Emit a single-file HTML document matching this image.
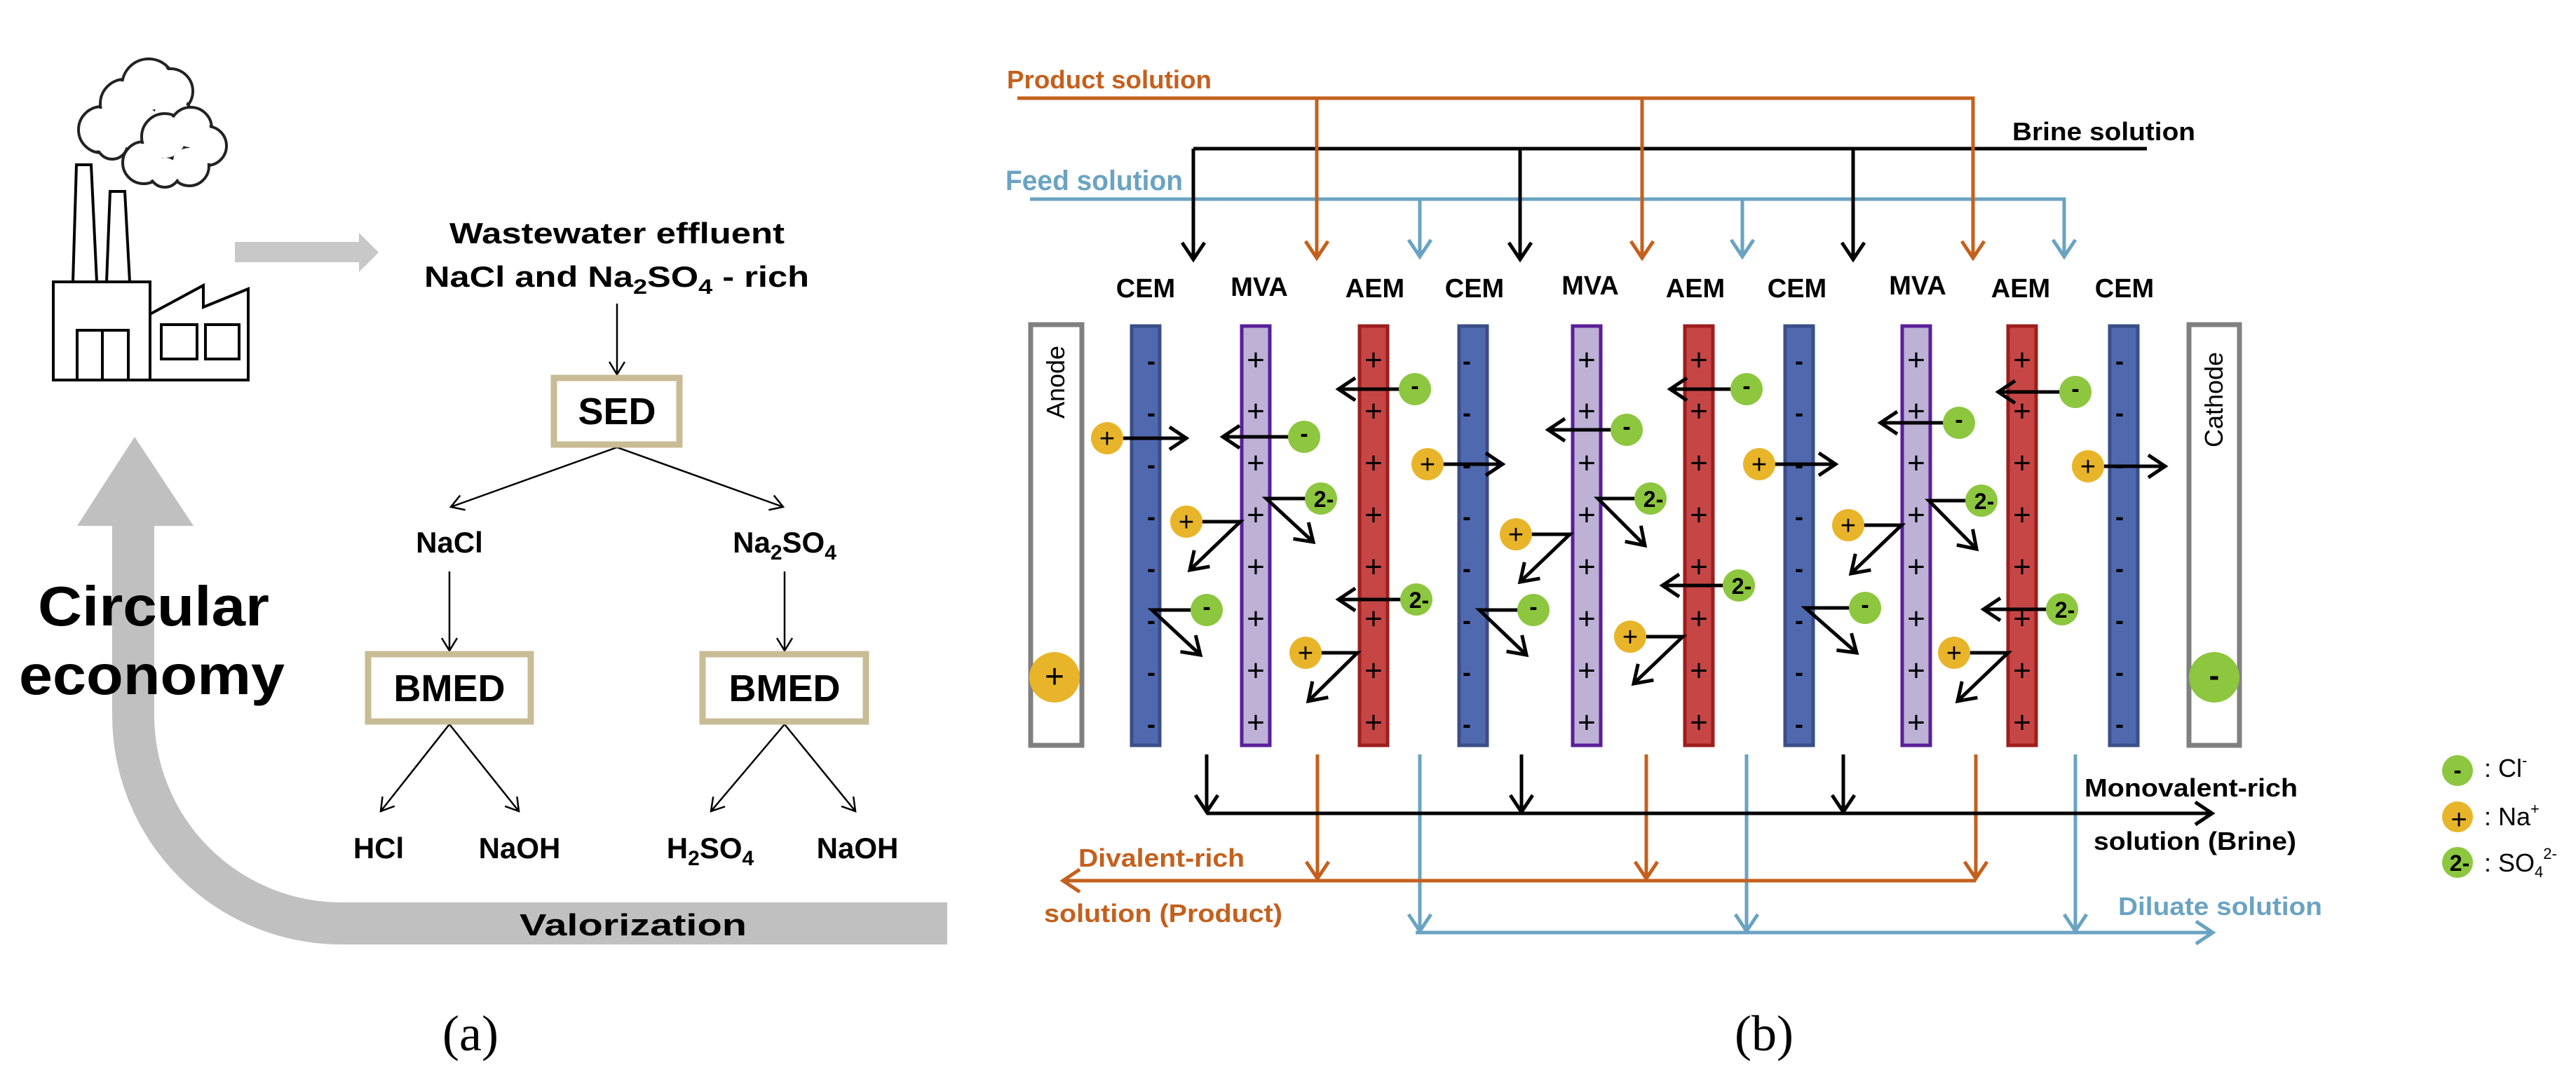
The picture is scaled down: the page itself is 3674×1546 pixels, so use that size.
<!DOCTYPE html>
<html><head><meta charset="utf-8"><style>
html,body{margin:0;padding:0;background:#fff;}
svg{display:block;}
text{font-family:"Liberation Sans",Arial,sans-serif;}
.b{font-weight:bold;}
</style></head><body>
<svg width="3674" height="1546" viewBox="0 0 3674 1546" xmlns="http://www.w3.org/2000/svg">
<defs>
<marker id="mk" markerUnits="userSpaceOnUse" markerWidth="40" markerHeight="40" viewBox="0 0 40 40" refX="34" refY="20" orient="auto"><path d="M10,4 L34,20 L10,36" fill="none" stroke="#000" stroke-width="5"/></marker>
<marker id="mo" markerUnits="userSpaceOnUse" markerWidth="40" markerHeight="40" viewBox="0 0 40 40" refX="34" refY="20" orient="auto"><path d="M10,4 L34,20 L10,36" fill="none" stroke="#c4601d" stroke-width="5"/></marker>
<marker id="mb" markerUnits="userSpaceOnUse" markerWidth="40" markerHeight="40" viewBox="0 0 40 40" refX="34" refY="20" orient="auto"><path d="M10,4 L34,20 L10,36" fill="none" stroke="#6aa3c2" stroke-width="5"/></marker>
<marker id="ms" markerUnits="userSpaceOnUse" markerWidth="30" markerHeight="30" viewBox="0 0 30 30" refX="26" refY="15" orient="auto"><path d="M8,4 L26,15 L8,26" fill="none" stroke="#000" stroke-width="2.5"/></marker>
</defs>

<!-- ===== Panel (a) ===== -->
<path d="M190,745 V1020 A297,297 0 0 0 487,1317 H1351" fill="none" stroke="#c0c0c0" stroke-width="60"/>
<polygon points="192,623 276,750 110,750" fill="#c0c0c0"/>
<rect x="335" y="345" width="180" height="29" fill="#c8c8c8"/>
<polygon points="512,332 540,360 512,388" fill="#c8c8c8"/>

<!-- clouds -->
<g stroke="#222" stroke-width="4" fill="#fff">
<circle cx="145" cy="185" r="33"/><circle cx="178" cy="148" r="35"/><circle cx="212" cy="122" r="38"/><circle cx="243" cy="130" r="32"/><circle cx="245" cy="165" r="28"/><circle cx="200" cy="185" r="35"/><circle cx="160" cy="205" r="22"/>
</g>
<g fill="#fff">
<circle cx="145" cy="185" r="30"/><circle cx="178" cy="148" r="32"/><circle cx="212" cy="122" r="35"/><circle cx="243" cy="130" r="29"/><circle cx="245" cy="165" r="25"/><circle cx="200" cy="185" r="32"/><circle cx="160" cy="205" r="19"/>
</g>
<g stroke="#222" stroke-width="4" fill="#fff">
<circle cx="205" cy="232" r="30"/><circle cx="235" cy="195" r="33"/><circle cx="272" cy="183" r="30"/><circle cx="295" cy="208" r="28"/><circle cx="270" cy="237" r="28"/><circle cx="235" cy="245" r="22"/>
</g>
<g fill="#fff">
<circle cx="205" cy="232" r="27"/><circle cx="235" cy="195" r="30"/><circle cx="272" cy="183" r="27"/><circle cx="295" cy="208" r="25"/><circle cx="270" cy="237" r="25"/><circle cx="235" cy="245" r="19"/>
</g>
<!-- factory -->
<g fill="none" stroke="#000" stroke-width="4">
<polygon points="109,235 130,235 138,402 104,402"/>
<polygon points="157,273 178,273 185,402 152,402"/>
<rect x="76" y="402" width="138" height="140"/>
<polyline points="214,448 290,407 290,438 354,412 354,542 214,542"/>
<rect x="230" y="463" width="51" height="49"/>
<rect x="293" y="463" width="48" height="49"/>
<rect x="110" y="471" width="73" height="71"/>
<line x1="146" y1="471" x2="146" y2="542"/>
</g>

<text x="880" y="347" class="b" font-size="42" text-anchor="middle" textLength="478" lengthAdjust="spacingAndGlyphs">Wastewater effluent</text>
<text x="605" y="409" class="b" font-size="42" textLength="549" lengthAdjust="spacingAndGlyphs">NaCl and Na<tspan font-size="30" dy="10">2</tspan><tspan dy="-10">SO</tspan><tspan font-size="30" dy="10">4</tspan><tspan dy="-10"> - rich</tspan></text>

<g stroke="#000" stroke-width="2.5" fill="none" marker-end="url(#ms)">
<line x1="880" y1="433" x2="880" y2="534"/>
<line x1="880" y1="638" x2="643" y2="723"/>
<line x1="880" y1="638" x2="1117" y2="723"/>
<line x1="641" y1="815" x2="641" y2="928"/>
<line x1="1119" y1="815" x2="1119" y2="928"/>
<line x1="641" y1="1033" x2="543" y2="1157"/>
<line x1="641" y1="1033" x2="740" y2="1157"/>
<line x1="1119" y1="1033" x2="1014" y2="1157"/>
<line x1="1119" y1="1033" x2="1220" y2="1157"/>
</g>
<g fill="#fff" stroke="#c8bc96" stroke-width="9">
<rect x="790" y="539" width="179" height="95"/>
<rect x="525" y="933" width="232" height="96"/>
<rect x="1002" y="933" width="233" height="96"/>
</g>
<text x="880" y="605" class="b" font-size="54" text-anchor="middle">SED</text>
<text x="641" y="1000" class="b" font-size="54" text-anchor="middle">BMED</text>
<text x="1119" y="1000" class="b" font-size="54" text-anchor="middle">BMED</text>
<text x="641" y="788" class="b" font-size="42" text-anchor="middle">NaCl</text>
<text x="1119" y="788" class="b" font-size="42" text-anchor="middle">Na<tspan font-size="30" dy="10">2</tspan><tspan dy="-10">SO</tspan><tspan font-size="30" dy="10">4</tspan></text>
<text x="540" y="1224" class="b" font-size="42" text-anchor="middle">HCl</text>
<text x="741" y="1224" class="b" font-size="42" text-anchor="middle">NaOH</text>
<text x="1013" y="1224" class="b" font-size="42" text-anchor="middle">H<tspan font-size="30" dy="10">2</tspan><tspan dy="-10">SO</tspan><tspan font-size="30" dy="10">4</tspan></text>
<text x="1223" y="1224" class="b" font-size="42" text-anchor="middle">NaOH</text>
<text x="54" y="892" class="b" font-size="80" textLength="330" lengthAdjust="spacingAndGlyphs">Circular</text>
<text x="27" y="990" class="b" font-size="80" textLength="379" lengthAdjust="spacingAndGlyphs">economy</text>
<text x="741" y="1334" class="b" font-size="44" textLength="324" lengthAdjust="spacingAndGlyphs">Valorization</text>
<text x="671" y="1498" font-size="72" text-anchor="middle" style="font-family:'Liberation Serif',serif">(a)</text>

<!-- ===== Panel (b) ===== -->
<text x="1436" y="126" class="b" font-size="36" fill="#c4601d" textLength="292" lengthAdjust="spacingAndGlyphs">Product solution</text>
<text x="1434" y="271" class="b" font-size="40" fill="#6aa3c2" textLength="253" lengthAdjust="spacingAndGlyphs">Feed solution</text>
<text x="2870" y="200" class="b" font-size="36" textLength="261" lengthAdjust="spacingAndGlyphs">Brine solution</text>

<g fill="none" stroke-width="5">
<path d="M1469,284 H2944 V366" stroke="#6aa3c2" marker-end="url(#mb)"/>
<path d="M2025,284 V366" stroke="#6aa3c2" marker-end="url(#mb)"/>
<path d="M2485,284 V366" stroke="#6aa3c2" marker-end="url(#mb)"/>
<path d="M1702,212 H3062" stroke="#000"/>
<path d="M1702,212 V370" stroke="#000" marker-end="url(#mk)"/>
<path d="M2168,212 V370" stroke="#000" marker-end="url(#mk)"/>
<path d="M2643,212 V370" stroke="#000" marker-end="url(#mk)"/>
<path d="M1451,140 H2814 V368" stroke="#c4601d" marker-end="url(#mo)"/>
<path d="M1878,140 V368" stroke="#c4601d" marker-end="url(#mo)"/>
<path d="M2342,140 V368" stroke="#c4601d" marker-end="url(#mo)"/>
</g>

<g class="b" font-size="38" text-anchor="middle" font-weight="bold">
<text x="1634" y="424">CEM</text><text x="1796" y="422">MVA</text><text x="1961" y="424">AEM</text>
<text x="2103" y="424">CEM</text><text x="2268" y="420">MVA</text><text x="2418" y="424">AEM</text>
<text x="2563" y="424">CEM</text><text x="2735" y="420">MVA</text><text x="2882" y="424">AEM</text>
<text x="3030" y="424">CEM</text>
</g>

<rect x="1470" y="463" width="73" height="600" fill="#fff" stroke="#808080" stroke-width="7"/>
<rect x="3122" y="463" width="72" height="600" fill="#fff" stroke="#808080" stroke-width="7"/>
<text transform="translate(1518,545) rotate(-90)" font-size="36" text-anchor="middle">Anode</text>
<text transform="translate(3170,570) rotate(-90)" font-size="36" text-anchor="middle">Cathode</text>
<circle cx="1504" cy="966" r="36" fill="#e8b52a"/>
<text x="1504" y="981" font-size="48" text-anchor="middle">+</text>
<circle cx="3158" cy="966" r="36" fill="#8dc63f"/>
<text x="3158" y="978" class="b" font-size="44" text-anchor="middle">-</text>

<g stroke-width="5">
<rect x="1614" y="465" width="40" height="598" fill="#5069ae" stroke="#3a4e88"/>
<rect x="2081" y="465" width="40" height="598" fill="#5069ae" stroke="#3a4e88"/>
<rect x="2546" y="465" width="40" height="598" fill="#5069ae" stroke="#3a4e88"/>
<rect x="3009" y="465" width="40" height="598" fill="#5069ae" stroke="#3a4e88"/>
<rect x="1771" y="465" width="40" height="598" fill="#bdb1d6" stroke="#5a1f9a"/>
<rect x="2243" y="465" width="40" height="598" fill="#bdb1d6" stroke="#5a1f9a"/>
<rect x="2713" y="465" width="40" height="598" fill="#bdb1d6" stroke="#5a1f9a"/>
<rect x="1939" y="465" width="40" height="598" fill="#c64646" stroke="#9e1e1e"/>
<rect x="2403" y="465" width="40" height="598" fill="#c64646" stroke="#9e1e1e"/>
<rect x="2864" y="465" width="40" height="598" fill="#c64646" stroke="#9e1e1e"/>
</g>
<g class="b" font-size="36" text-anchor="middle">
<text x="1642" y="527">-</text><text x="1642" y="601">-</text><text x="1642" y="675">-</text><text x="1642" y="749">-</text><text x="1642" y="823">-</text><text x="1642" y="897">-</text><text x="1642" y="971">-</text><text x="1642" y="1045">-</text>
<text x="2092" y="527">-</text><text x="2092" y="601">-</text><text x="2092" y="675">-</text><text x="2092" y="749">-</text><text x="2092" y="823">-</text><text x="2092" y="897">-</text><text x="2092" y="971">-</text><text x="2092" y="1045">-</text>
<text x="2566" y="527">-</text><text x="2566" y="601">-</text><text x="2566" y="675">-</text><text x="2566" y="749">-</text><text x="2566" y="823">-</text><text x="2566" y="897">-</text><text x="2566" y="971">-</text><text x="2566" y="1045">-</text>
<text x="3023" y="527">-</text><text x="3023" y="601">-</text><text x="3023" y="675">-</text><text x="3023" y="749">-</text><text x="3023" y="823">-</text><text x="3023" y="897">-</text><text x="3023" y="971">-</text><text x="3023" y="1045">-</text>
</g>
<g font-size="44" text-anchor="middle">
<text x="1791" y="528">+</text><text x="1791" y="601">+</text><text x="1791" y="675">+</text><text x="1791" y="749">+</text><text x="1791" y="823">+</text><text x="1791" y="897">+</text><text x="1791" y="971">+</text><text x="1791" y="1045">+</text>
<text x="1959" y="528">+</text><text x="1959" y="601">+</text><text x="1959" y="675">+</text><text x="1959" y="749">+</text><text x="1959" y="823">+</text><text x="1959" y="897">+</text><text x="1959" y="971">+</text><text x="1959" y="1045">+</text>
<text x="2263" y="528">+</text><text x="2263" y="601">+</text><text x="2263" y="675">+</text><text x="2263" y="749">+</text><text x="2263" y="823">+</text><text x="2263" y="897">+</text><text x="2263" y="971">+</text><text x="2263" y="1045">+</text>
<text x="2423" y="528">+</text><text x="2423" y="601">+</text><text x="2423" y="675">+</text><text x="2423" y="749">+</text><text x="2423" y="823">+</text><text x="2423" y="897">+</text><text x="2423" y="971">+</text><text x="2423" y="1045">+</text>
<text x="2733" y="528">+</text><text x="2733" y="601">+</text><text x="2733" y="675">+</text><text x="2733" y="749">+</text><text x="2733" y="823">+</text><text x="2733" y="897">+</text><text x="2733" y="971">+</text><text x="2733" y="1045">+</text>
<text x="2884" y="528">+</text><text x="2884" y="601">+</text><text x="2884" y="675">+</text><text x="2884" y="749">+</text><text x="2884" y="823">+</text><text x="2884" y="897">+</text><text x="2884" y="971">+</text><text x="2884" y="1045">+</text>
</g>

<g fill="none" stroke="#000" stroke-width="5" marker-end="url(#mk)">
<line x1="1579" y1="625" x2="1692" y2="625"/>
<line x1="1860" y1="623" x2="1744" y2="623"/>
<polyline points="1692,744 1769,744 1697,813"/>
<polyline points="1884,711 1806,711 1873,773"/>
<polyline points="1721,870 1643,870 1712,934"/>
<line x1="2018" y1="555" x2="1909" y2="555"/>
<line x1="2020" y1="855" x2="1909" y2="855"/>
<polyline points="1862,931 1936,931 1866,1000"/>
<line x1="2036" y1="662" x2="2143" y2="662"/>
<line x1="2320" y1="613" x2="2208" y2="613"/>
<polyline points="2162,762 2239,762 2168,830"/>
<polyline points="2354,711 2279,711 2346,778"/>
<polyline points="2187,870 2110,870 2177,934"/>
<line x1="2491" y1="555" x2="2382" y2="555"/>
<line x1="2480" y1="835" x2="2371" y2="835"/>
<polyline points="2325,908 2400,908 2330,975"/>
<line x1="2509" y1="662" x2="2618" y2="662"/>
<line x1="2794" y1="603" x2="2682" y2="603"/>
<polyline points="2636,749 2712,749 2640,818"/>
<polyline points="2826,714 2751,714 2819,783"/>
<polyline points="2660,867 2575,867 2648,931"/>
<line x1="2960" y1="559" x2="2850" y2="559"/>
<line x1="2941" y1="869" x2="2829" y2="869"/>
<polyline points="2787,931 2864,931 2792,1000"/>
<line x1="2978" y1="665" x2="3088" y2="665"/>
</g>

<g fill="#e8b52a">
<circle cx="1579" cy="625" r="23"/><circle cx="1692" cy="744" r="23"/><circle cx="1862" cy="931" r="23"/>
<circle cx="2036" cy="662" r="23"/><circle cx="2162" cy="762" r="23"/><circle cx="2325" cy="908" r="23"/>
<circle cx="2509" cy="662" r="23"/><circle cx="2636" cy="749" r="23"/><circle cx="2787" cy="931" r="23"/>
<circle cx="2978" cy="665" r="23"/>
</g>
<g fill="#8dc63f">
<circle cx="1860" cy="623" r="23"/><circle cx="1884" cy="711" r="23"/><circle cx="1721" cy="870" r="23"/><circle cx="2018" cy="555" r="23"/><circle cx="2020" cy="855" r="23"/>
<circle cx="2320" cy="613" r="23"/><circle cx="2354" cy="711" r="23"/><circle cx="2187" cy="870" r="23"/><circle cx="2491" cy="555" r="23"/><circle cx="2480" cy="835" r="23"/>
<circle cx="2794" cy="603" r="23"/><circle cx="2826" cy="714" r="23"/><circle cx="2660" cy="867" r="23"/><circle cx="2960" cy="559" r="23"/><circle cx="2941" cy="869" r="23"/>
</g>
<g font-size="38" text-anchor="middle">
<text x="1579" y="638">+</text><text x="1692" y="757">+</text><text x="1862" y="944">+</text>
<text x="2036" y="675">+</text><text x="2162" y="775">+</text><text x="2325" y="921">+</text>
<text x="2509" y="675">+</text><text x="2636" y="762">+</text><text x="2787" y="944">+</text>
<text x="2978" y="678">+</text>
</g>
<g class="b" font-size="34" text-anchor="middle">
<text x="1860" y="630">-</text><text x="1721" y="877">-</text><text x="2018" y="562">-</text>
<text x="2320" y="620">-</text><text x="2187" y="877">-</text><text x="2491" y="562">-</text>
<text x="2794" y="610">-</text><text x="2660" y="874">-</text><text x="2960" y="566">-</text>
</g>
<g class="b" font-size="32" text-anchor="middle">
<text x="1888" y="723">2-</text><text x="2024" y="867">2-</text>
<text x="2358" y="723">2-</text><text x="2484" y="847">2-</text>
<text x="2830" y="726">2-</text><text x="2945" y="881">2-</text>
</g>

<g fill="none" stroke-width="5">
<path d="M2019,1330 H3156" stroke="#6aa3c2" marker-end="url(#mb)"/>
<path d="M2025,1076 V1328" stroke="#6aa3c2" marker-end="url(#mb)"/>
<path d="M2491,1076 V1328" stroke="#6aa3c2" marker-end="url(#mb)"/>
<path d="M2960,1076 V1328" stroke="#6aa3c2" marker-end="url(#mb)"/>
<path d="M2818,1256 H1516" stroke="#c4601d" marker-end="url(#mo)"/>
<path d="M1879,1076 V1253" stroke="#c4601d" marker-end="url(#mo)"/>
<path d="M2348,1076 V1253" stroke="#c4601d" marker-end="url(#mo)"/>
<path d="M2818,1076 V1253" stroke="#c4601d" marker-end="url(#mo)"/>
<path d="M1721,1160 H3155" stroke="#000" marker-end="url(#mk)"/>
<path d="M1721,1076 V1158" stroke="#000" marker-end="url(#mk)"/>
<path d="M2170,1076 V1158" stroke="#000" marker-end="url(#mk)"/>
<path d="M2629,1076 V1158" stroke="#000" marker-end="url(#mk)"/>
</g>
<text x="1538" y="1236" class="b" font-size="36" fill="#c4601d" textLength="237" lengthAdjust="spacingAndGlyphs">Divalent-rich</text>
<text x="1489" y="1315" class="b" font-size="36" fill="#c4601d" textLength="340" lengthAdjust="spacingAndGlyphs">solution (Product)</text>
<text x="2973" y="1136" class="b" font-size="36" textLength="304" lengthAdjust="spacingAndGlyphs">Monovalent-rich</text>
<text x="2986" y="1212" class="b" font-size="36" textLength="289" lengthAdjust="spacingAndGlyphs">solution (Brine)</text>
<text x="3021" y="1305" class="b" font-size="36" fill="#6aa3c2" textLength="291" lengthAdjust="spacingAndGlyphs">Diluate solution</text>

<circle cx="3505" cy="1099" r="22" fill="#8dc63f"/>
<text x="3505" y="1110" class="b" font-size="34" text-anchor="middle">-</text>
<circle cx="3505" cy="1165" r="22" fill="#e8b52a"/>
<text x="3507" y="1182" font-size="40" text-anchor="middle">+</text>
<circle cx="3505" cy="1230" r="22" fill="#8dc63f"/>
<text x="3508" y="1242" class="b" font-size="32" text-anchor="middle">2-</text>
<text x="3543" y="1108" font-size="36">: Cl<tspan font-size="22" dy="-16">-</tspan></text>
<text x="3543" y="1177" font-size="36">: Na<tspan font-size="22" dy="-16">+</tspan></text>
<text x="3543" y="1243" font-size="36">: SO<tspan font-size="22" dy="8">4</tspan><tspan font-size="22" dy="-26">2-</tspan></text>

<text x="2516" y="1498" font-size="72" text-anchor="middle" style="font-family:'Liberation Serif',serif">(b)</text>
</svg>
</body></html>
